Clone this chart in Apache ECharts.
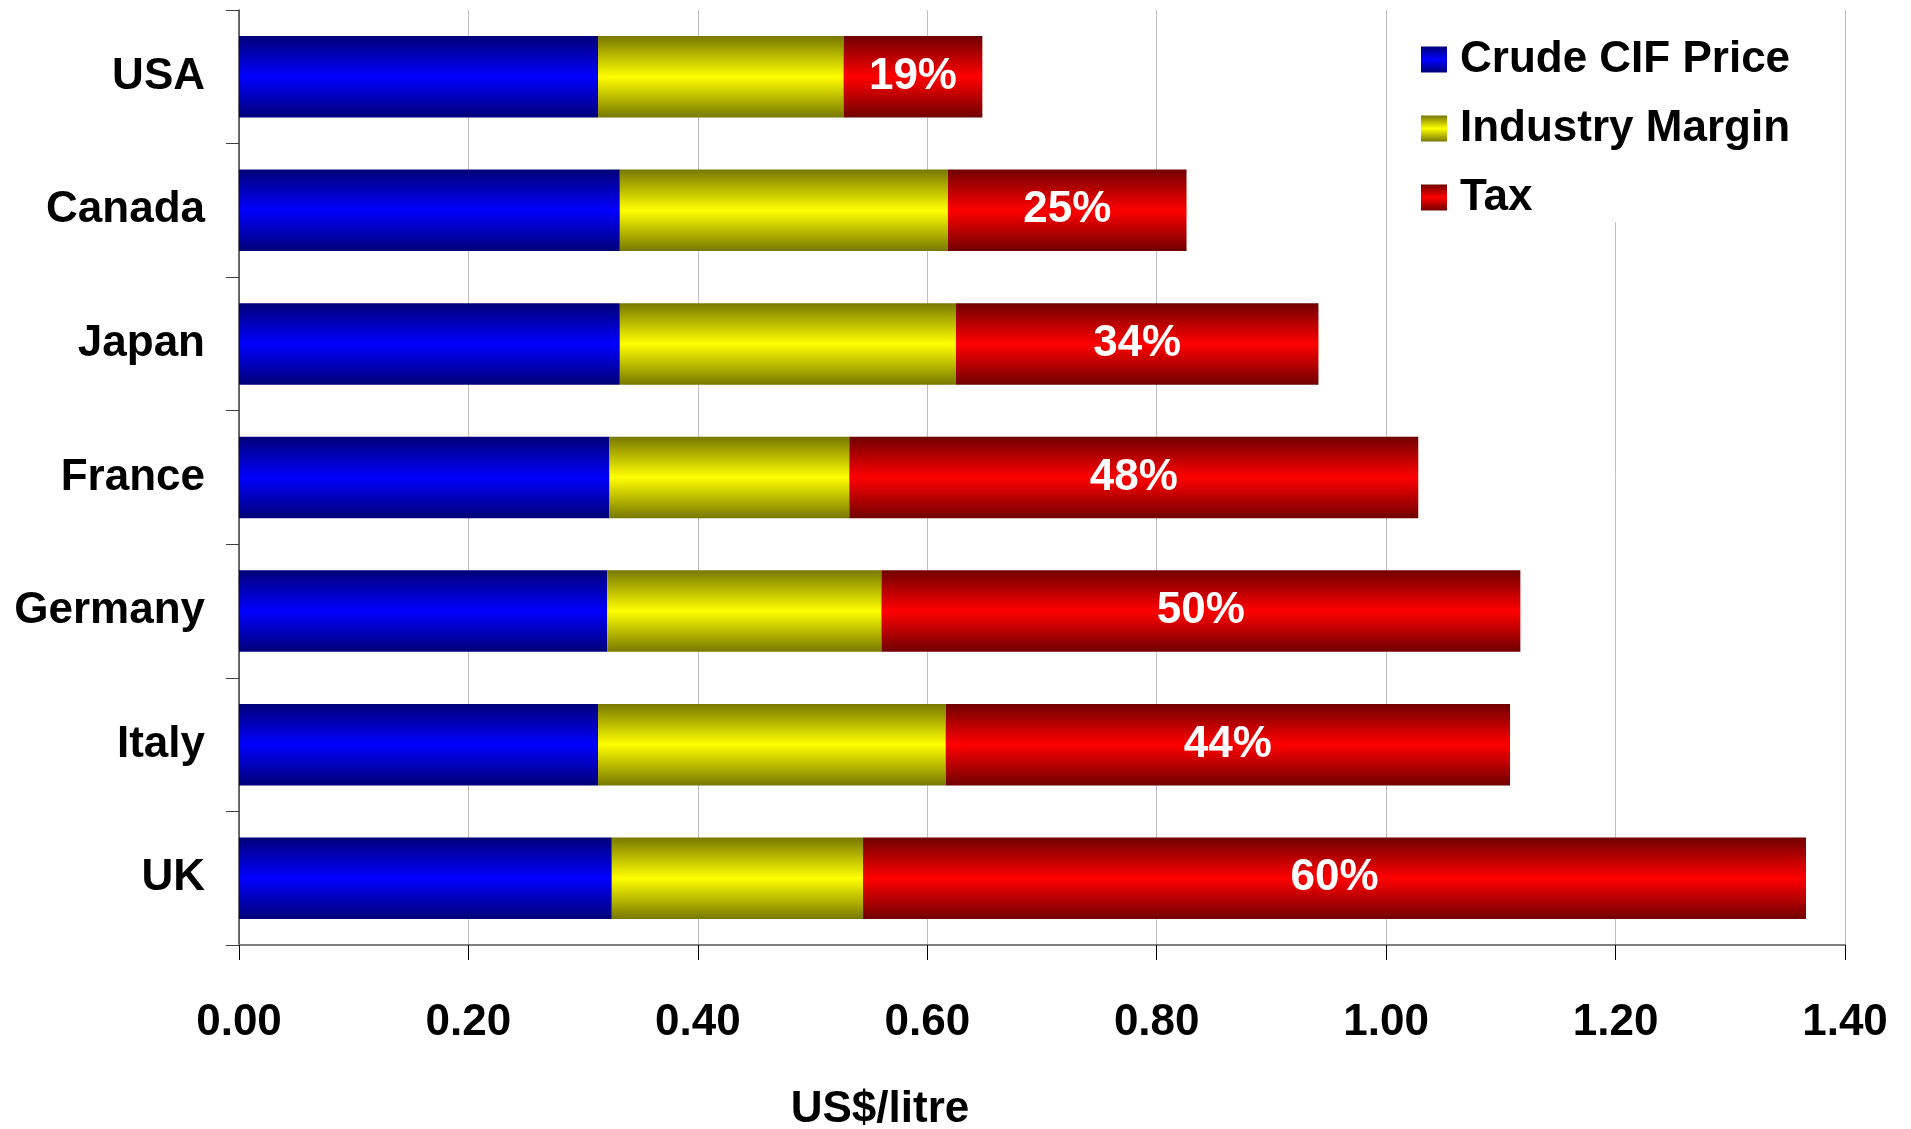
<!DOCTYPE html>
<html>
<head>
<meta charset="utf-8">
<script src="https://cdn.jsdelivr.net/npm/echarts@6/dist/echarts.min.js"></script>
<style>
  html, body { margin: 0; padding: 0; background: #fff; }
  #chart { width: 1911px; height: 1129px; }
</style>
</head>
<body>
<div id="chart"></div>
<script>
// Petrol price build-up by country, US$ per litre
const countries = ['USA', 'Canada', 'Japan', 'France', 'Germany', 'Italy', 'UK'];
const crudeCif = [0.313, 0.332, 0.332, 0.323, 0.321, 0.313, 0.325];
const industryMargin = [0.214, 0.286, 0.293, 0.209, 0.239, 0.303, 0.219];
const tax = [0.121, 0.208, 0.316, 0.496, 0.557, 0.492, 0.822];
const xTicks = [0, 0.2, 0.4, 0.6, 0.8, 1.0, 1.2, 1.4];

const FONT = '"Liberation Sans", Arial, sans-serif';
const FS = 44;

// vertical shading: dark edges, bright centre
function shade(dark, bright) {
  return new echarts.graphic.LinearGradient(0, 0, 0, 1, [
    { offset: 0, color: dark },
    { offset: 0.5, color: bright },
    { offset: 1, color: dark }
  ]);
}

// tax share of the total pump price, in percent
const taxShare = tax.map((t, i) => Math.round(100 * t / (crudeCif[i] + industryMargin[i] + t)));

const chart = echarts.init(document.getElementById('chart'));
chart.setOption({
  animation: false,
  backgroundColor: '#fff',
  grid: { left: 239, right: 66, top: 10, bottom: 184, outerBoundsMode: 'none', containLabel: false },
  legend: {
    orient: 'vertical',
    left: 1402,
    top: 0,
    padding: [37, 10, 2, 19],
    backgroundColor: '#fff',
    icon: 'rect',
    itemWidth: 26,
    itemHeight: 26,
    itemGap: 24,
    textStyle: {
      fontFamily: FONT, fontWeight: 'bold', fontSize: FS, color: '#000',
      lineHeight: 45, padding: [0, 0, 0, 8]
    },
    data: ['Crude CIF Price', 'Industry Margin', 'Tax']
  },
  xAxis: {
    type: 'value',
    min: xTicks[0],
    max: xTicks[xTicks.length - 1],
    interval: 0.2,
    name: 'US$/litre',
    nameLocation: 'middle',
    nameGap: 143,
    nameTextStyle: {
      fontFamily: FONT, fontWeight: 'bold', fontSize: FS, color: '#000',
      padding: [0, 324, 0, 0]
    },
    axisLine: { show: true, lineStyle: { color: '#808080', width: 2 } },
    axisTick: { show: true, length: 15, lineStyle: { color: '#000', width: 1 } },
    axisLabel: {
      margin: 56,
      fontFamily: FONT, fontWeight: 'bold', fontSize: FS, color: '#000',
      formatter: v => v.toFixed(2)
    },
    splitLine: { show: true, lineStyle: { color: '#bfbfbf', width: 1 } }
  },
  yAxis: {
    type: 'category',
    inverse: true,
    data: countries,
    axisLine: { show: true, lineStyle: { color: '#404040', width: 1.5 } },
    axisTick: { show: true, length: 13, lineStyle: { color: '#404040', width: 1 } },
    axisLabel: {
      margin: 34,
      padding: [5, 0, 0, 0],
      fontFamily: FONT, fontWeight: 'bold', fontSize: FS, color: '#000'
    }
  },
  series: [
    {
      name: 'Crude CIF Price', type: 'bar', stack: 'price', barCategoryGap: '39%',
      itemStyle: { color: shade('#000078', '#0000ff') },
      data: crudeCif
    },
    {
      name: 'Industry Margin', type: 'bar', stack: 'price',
      itemStyle: { color: shade('#787800', '#ffff00') },
      data: industryMargin
    },
    {
      name: 'Tax', type: 'bar', stack: 'price',
      itemStyle: { color: shade('#700000', '#ff0000') },
      label: {
        show: true, position: 'inside', color: '#fff',
        padding: [5, 0, 0, 0],
        fontFamily: FONT, fontWeight: 'bold', fontSize: FS,
        formatter: p => taxShare[p.dataIndex] + '%'
      },
      data: tax
    }
  ]
});
</script>
</body>
</html>
